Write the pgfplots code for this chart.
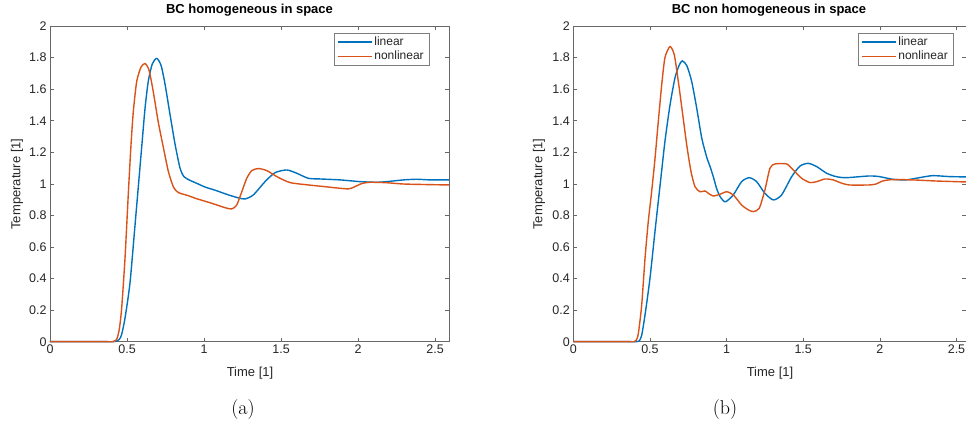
\documentclass[border=0pt]{standalone}
\usepackage{fontspec}
\setmainfont{Liberation Sans}
\newfontfamily\lmr{Latin Modern Roman}
\usepackage{pgfplots}
\pgfplotsset{compat=1.18}
\definecolor{mblue}{rgb}{0,0.447,0.741}
\definecolor{mred}{rgb}{0.85,0.325,0.098}
\definecolor{axgray}{rgb}{0.15,0.15,0.15}
\pgfplotsset{
  mstyle/.style={
    scale only axis,
    anchor=south west,
    clip=false,
    ymin=0, ymax=2,
    ytick={0,0.2,...,2.01},
    yticklabels={0,0.2,0.4,0.6,0.8,1,1.2,1.4,1.6,1.8,2},
    xtick={0,0.5,1,1.5,2,2.5},
    xticklabels={0,0.5,1,1.5,2,2.5},
    tick align=inside,
    major tick length=4pt,
    axis line style={axgray!70, line width=0.5pt},
    every tick/.style={axgray!70, line width=0.5pt},
    tick label style={font=\fontsize{12.5}{14}\selectfont, text=axgray},
    /pgf/number format/assume math mode=true,
    legend cell align=left,
    legend style={font=\fontsize{12}{14}\selectfont, draw=axgray!60, line width=0.5pt,
      inner xsep=3pt, inner ysep=2pt, row sep=0pt, text=axgray},
    legend image code/.code={\draw[#1, line width=1.4pt, sharp plot] (0pt,0pt) -- (34pt,0pt);},
    every axis plot/.append style={line width=1.4pt, smooth, tension=0.4},
  }
}
\begin{document}
\begin{tikzpicture}[x=1pt,y=1pt]
\useasboundingbox (0,0) rectangle (966,428);
% left
\begin{axis}[mstyle, at={(50pt,86.3pt)}, width=399pt, height=315.7pt,
  xmin=0, xmax=2.59,
  legend style={at={(1,1)}, anchor=north east, xshift=-20pt, yshift=-6.7pt}]
\addplot[mblue] coordinates {
(0,0) (0.1,0) (0.2,0) (0.3,0) (0.38,0) (0.41,0) (0.43,0.003) (0.45,0.015) (0.465,0.045) (0.487,0.15) (0.519,0.37) (0.552,0.74) (0.574,0.99) (0.595,1.23) (0.617,1.48) (0.638,1.65) (0.664,1.76) (0.693,1.795) (0.721,1.75) (0.747,1.63) (0.779,1.44) (0.812,1.25) (0.844,1.10) (0.87,1.045) (0.909,1.022) (0.942,1.008) (1.006,0.98) (1.071,0.96) (1.158,0.93) (1.22,0.912) (1.266,0.904) (1.32,0.93) (1.396,1.014) (1.461,1.071) (1.537,1.088) (1.602,1.067) (1.677,1.035) (1.753,1.031) (1.883,1.025) (2.013,1.014) (2.12,1.01) (2.186,1.014) (2.294,1.025) (2.381,1.029) (2.468,1.025) (2.59,1.025)
};
\addlegendentry{linear}
\addplot[mred] coordinates {
(0,0) (0.1,0) (0.2,0) (0.3,0) (0.37,0) (0.40,0) (0.42,0.004) (0.435,0.02) (0.45,0.08) (0.465,0.21) (0.487,0.53) (0.509,0.95) (0.526,1.25) (0.541,1.46) (0.563,1.65) (0.591,1.74) (0.617,1.762) (0.643,1.72) (0.671,1.58) (0.703,1.39) (0.736,1.23) (0.768,1.08) (0.801,0.98) (0.833,0.945) (0.898,0.925) (0.942,0.909) (1.006,0.89) (1.05,0.877) (1.136,0.849) (1.18,0.841) (1.212,0.866) (1.245,0.95) (1.277,1.035) (1.31,1.084) (1.353,1.097) (1.407,1.084) (1.472,1.046) (1.558,1.008) (1.677,0.993) (1.786,0.982) (1.862,0.974) (1.937,0.968) (1.97,0.978) (2.024,1.002) (2.078,1.01) (2.186,1.007) (2.294,0.999) (2.468,0.995) (2.59,0.993)
};
\addlegendentry{nonlinear}
\end{axis}
% right
\begin{axis}[mstyle, at={(573.3pt,86.3pt)}, width=392.7pt, height=315.7pt,
  xmin=0, xmax=2.562,
  legend style={at={(1,1)}, anchor=north east, xshift=-13pt, yshift=-6.7pt}]
\addplot[mblue] coordinates {
(0,0) (0.1,0) (0.2,0) (0.3,0) (0.38,0) (0.415,0) (0.43,0.005) (0.446,0.04) (0.468,0.17) (0.50,0.40) (0.533,0.70) (0.566,0.99) (0.598,1.27) (0.631,1.50) (0.663,1.67) (0.69,1.75) (0.711,1.779) (0.74,1.75) (0.772,1.65) (0.805,1.48) (0.838,1.29) (0.87,1.17) (0.892,1.11) (0.915,1.04) (0.935,0.97) (0.957,0.92) (0.978,0.894) (0.996,0.887) (1.044,0.93) (1.098,1.014) (1.148,1.039) (1.196,1.014) (1.25,0.94) (1.305,0.898) (1.359,0.93) (1.425,1.046) (1.479,1.113) (1.533,1.13) (1.588,1.109) (1.653,1.067) (1.714,1.046) (1.779,1.039) (1.931,1.05) (1.996,1.046) (2.083,1.029) (2.17,1.025) (2.257,1.039) (2.344,1.052) (2.453,1.046) (2.562,1.044)
};
\addlegendentry{linear}
\addplot[mred] coordinates {
(0,0) (0.1,0) (0.2,0) (0.3,0) (0.37,0) (0.395,0) (0.41,0.008) (0.424,0.05) (0.446,0.23) (0.468,0.53) (0.489,0.76) (0.511,0.95) (0.533,1.16) (0.554,1.39) (0.577,1.63) (0.598,1.80) (0.631,1.87) (0.659,1.817) (0.685,1.65) (0.711,1.46) (0.74,1.246) (0.768,1.077) (0.794,0.982) (0.826,0.95) (0.859,0.955) (0.881,0.94) (0.913,0.923) (0.957,0.934) (1.0,0.95) (1.044,0.93) (1.098,0.866) (1.142,0.835) (1.174,0.824) (1.213,0.845) (1.25,0.961) (1.283,1.099) (1.316,1.126) (1.392,1.126) (1.435,1.088) (1.49,1.035) (1.544,1.008) (1.588,1.014) (1.642,1.031) (1.696,1.025) (1.74,1.008) (1.8,0.993) (1.931,0.993) (1.975,0.999) (2.018,1.018) (2.083,1.027) (2.214,1.025) (2.366,1.018) (2.562,1.012)
};
\addlegendentry{nonlinear}
\end{axis}
% titles and labels
\node[font=\fontsize{13}{15}\selectfont\bfseries, text=black] at (249.5,418) {BC homogeneous in space};
\node[font=\fontsize{13}{15}\selectfont\bfseries, text=black] at (769,418) {BC non homogeneous in space};
\node[font=\fontsize{13}{15}\selectfont, text=axgray] at (250,55) {Time [1]};
\node[font=\fontsize{13}{15}\selectfont, text=axgray] at (770,55) {Time [1]};
\node[font=\fontsize{13}{15}\selectfont, text=axgray, rotate=90] at (17,244) {Temperature [1]};
\node[font=\fontsize{13}{15}\selectfont, text=axgray, rotate=90] at (539,244) {Temperature [1]};
\node[font=\lmr\fontsize{20}{24}\selectfont] at (243,18) {(a)};
\node[font=\lmr\fontsize{20}{24}\selectfont] at (725,18) {(b)};
\end{tikzpicture}
\end{document}
